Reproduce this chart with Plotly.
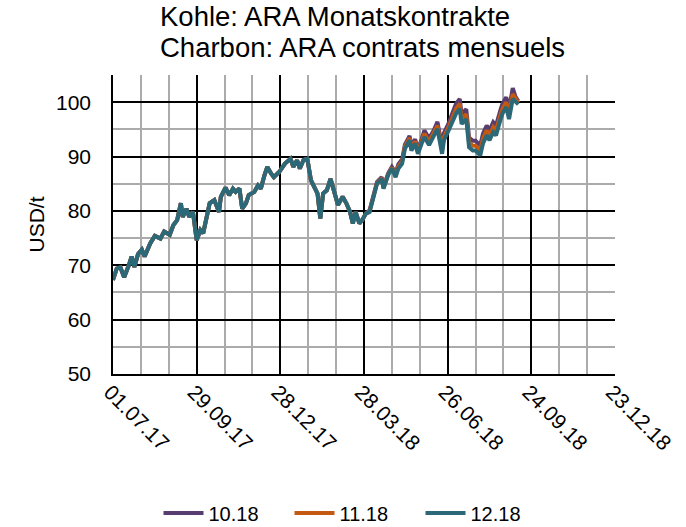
import plotly.graph_objects as go

dates = [
    "2017-07-01", "2017-07-05", "2017-07-09", "2017-07-13", "2017-07-18", "2017-07-21", "2017-07-24", "2017-07-28",
    "2017-08-01", "2017-08-04", "2017-08-10", "2017-08-15", "2017-08-21", "2017-08-25", "2017-08-31",
    "2017-09-04", "2017-09-08", "2017-09-12", "2017-09-14", "2017-09-18", "2017-09-21", "2017-09-25", "2017-09-29",
    "2017-10-03", "2017-10-06", "2017-10-10", "2017-10-13", "2017-10-18", "2017-10-23", "2017-10-25", "2017-10-30",
    "2017-11-03", "2017-11-07", "2017-11-10", "2017-11-14", "2017-11-17", "2017-11-21", "2017-11-24", "2017-11-30",
    "2017-12-04", "2017-12-07", "2017-12-11", "2017-12-14", "2017-12-18", "2017-12-21", "2017-12-27",
    "2018-01-02", "2018-01-08", "2018-01-11", "2018-01-15", "2018-01-18", "2018-01-22", "2018-01-26", "2018-01-30",
    "2018-02-02", "2018-02-06", "2018-02-09", "2018-02-12", "2018-02-16", "2018-02-20", "2018-02-23", "2018-02-28",
    "2018-03-05", "2018-03-09", "2018-03-13", "2018-03-16", "2018-03-19", "2018-03-23", "2018-03-26", "2018-03-30",
    "2018-04-03", "2018-04-06", "2018-04-11", "2018-04-16", "2018-04-18", "2018-04-23", "2018-04-27",
    "2018-05-01", "2018-05-04", "2018-05-08", "2018-05-11", "2018-05-16", "2018-05-18", "2018-05-22", "2018-05-25", "2018-05-29",
    "2018-06-01", "2018-06-06", "2018-06-11", "2018-06-15", "2018-06-20", "2018-06-22", "2018-06-27",
    "2018-07-02", "2018-07-05", "2018-07-09", "2018-07-11", "2018-07-16", "2018-07-19", "2018-07-23", "2018-07-26", "2018-07-31",
    "2018-08-03", "2018-08-07", "2018-08-10", "2018-08-14", "2018-08-17", "2018-08-22", "2018-08-24", "2018-08-28", "2018-08-31",
    "2018-09-04", "2018-09-07", "2018-09-10",
]

ara_10_18 = [
    67.3, 69.4, 69.6, 67.8, 70.0, 71.6, 69.7, 72.1,
    72.9, 71.6, 74.0, 75.4, 74.9, 76.2, 75.6,
    77.4, 78.3, 81.4, 78.9, 80.4, 78.9, 79.8, 74.6,
    76.5, 75.9, 78.9, 81.4, 82.0, 79.8, 82.6, 84.3,
    82.9, 84.1, 83.5, 84.1, 80.4, 81.4, 82.9, 83.5,
    84.7, 84.1, 86.6, 88.1, 86.9, 86.2, 87.2,
    88.7, 89.6, 88.1, 89.3, 87.8, 89.4, 89.6, 85.6,
    84.4, 83.2, 78.6, 83.2, 83.8, 85.9, 84.1, 81.1,
    82.6, 81.4, 79.8, 77.7, 79.8, 77.7, 78.3, 79.5,
    80.1, 82.3, 85.3, 86.2, 84.4, 86.9, 88.1,
    87.0, 88.6, 89.5, 92.2, 93.8, 91.9, 93.2, 91.3, 93.2,
    94.8, 93.3, 94.8, 96.4, 91.8, 94.3, 96.1,
    98.4, 99.7, 100.6, 97.8, 98.7, 93.5, 92.9, 92.9, 92.0,
    94.2, 95.7, 94.8, 96.3, 95.7, 98.7, 99.7, 100.9, 98.7,
    102.6, 101.0, 100.2,
]

ara_11_18 = [
    67.3, 69.4, 69.6, 67.8, 70.0, 71.6, 69.7, 72.1,
    72.9, 71.6, 74.0, 75.4, 74.9, 76.2, 75.6,
    77.4, 78.3, 81.4, 78.9, 80.4, 78.9, 79.8, 74.6,
    76.5, 75.9, 78.9, 81.4, 82.0, 79.8, 82.6, 84.3,
    82.9, 84.1, 83.5, 84.1, 80.4, 81.4, 82.9, 83.5,
    84.7, 84.1, 86.6, 88.1, 86.9, 86.2, 87.2,
    88.7, 89.6, 88.1, 89.3, 87.8, 89.4, 89.6, 85.6,
    84.4, 83.2, 78.6, 83.2, 83.8, 85.9, 84.1, 81.1,
    82.6, 81.4, 79.8, 77.7, 79.8, 77.7, 78.3, 79.5,
    79.95, 82.15, 85.15, 86.05, 84.25, 86.75, 87.95,
    86.6, 88.2, 89.1, 91.8, 93.4, 91.5, 92.8, 90.9, 92.8,
    94.2, 92.7, 94.2, 95.7, 91.1, 93.6, 95.4,
    97.5, 98.8, 99.7, 96.9, 97.8, 92.6, 92.0, 92.0, 91.1,
    93.3, 94.8, 93.9, 95.4, 94.8, 97.8, 98.8, 100.0, 97.8,
    101.5, 100.6, 99.9,
]

ara_12_18 = [
    67.3, 69.4, 69.6, 67.8, 70.0, 71.6, 69.7, 72.1,
    72.9, 71.6, 74.0, 75.4, 74.9, 76.2, 75.6,
    77.4, 78.3, 81.4, 78.9, 80.4, 78.9, 79.8, 74.6,
    76.5, 75.9, 78.9, 81.4, 82.0, 79.8, 82.6, 84.3,
    82.9, 84.1, 83.5, 84.1, 80.4, 81.4, 82.9, 83.5,
    84.7, 84.1, 86.6, 88.1, 86.9, 86.2, 87.2,
    88.7, 89.6, 88.1, 89.3, 87.8, 89.4, 89.6, 85.6,
    84.4, 83.2, 78.6, 83.2, 83.8, 85.9, 84.1, 81.1,
    82.6, 81.4, 79.8, 77.7, 79.8, 77.7, 78.3, 79.5,
    79.8, 82.0, 85.0, 85.9, 84.1, 86.6, 87.8,
    86.2, 87.8, 88.7, 91.4, 93.0, 91.1, 92.4, 90.5, 92.4,
    93.6, 92.1, 93.6, 95.1, 90.5, 93.0, 94.8,
    96.6, 97.9, 98.8, 96.0, 96.9, 91.7, 91.1, 91.1, 90.2,
    92.4, 93.9, 93.0, 94.5, 93.9, 96.9, 97.9, 99.1, 96.9,
    100.6, 100.0, 99.6,
]

series_names = ["10.18", "11.18", "12.18"]
series_colors = ["#573d70", "#c45a11", "#2b6878"]
title_lines = ["Kohle: ARA Monatskontrakte", "Charbon: ARA contrats mensuels"]
y_title = "USD/t"

FONT = "Liberation Sans, Arial, sans-serif"
DAY_MS = 86400000
PLOT_L, PLOT_T, PLOT_W, PLOT_H = 113, 75, 502, 299  # target pixels

fig = go.Figure()
for name, vals, col in zip(series_names, [ara_10_18, ara_11_18, ara_12_18], series_colors):
    fig.add_trace(go.Scatter(
        x=dates, y=vals, mode="lines", name=name,
        line=dict(color=col, width=4),
    ))

W, H = 686, 527
fig.update_layout(
    width=W, height=H,
    margin=dict(l=PLOT_L, r=W - PLOT_L - PLOT_W, t=PLOT_T, b=H - PLOT_T - PLOT_H,
                autoexpand=False),
    paper_bgcolor="white", plot_bgcolor="white",
    font=dict(family=FONT, color="#000000", size=21),
    showlegend=True,
    legend=dict(
        orientation="h", xref="container", yref="container",
        x=355 / W, xanchor="center",
        y=1 - 513 / H, yanchor="middle",
        font=dict(size=20, family=FONT), itemwidth=40,
        entrywidth=76, tracegroupgap=0,
    ),
)

fig.update_xaxes(
    type="date",
    range=["2017-07-01", "2018-12-23"],
    tick0="2017-07-01", dtick=90 * DAY_MS,
    tickformat="%d.%m.%y", tickangle=45,
    tickfont=dict(size=21, family=FONT),
    ticks="", ticklabelstandoff=-4, ticklabelshift=-3,
    showgrid=True, gridcolor="#000000", gridwidth=1.5,
    showline=True, linecolor="#000000", linewidth=1.5,
    zeroline=False,
    minor=dict(dtick=30 * DAY_MS, tick0="2017-07-01", showgrid=True,
               gridcolor="#ababab", gridwidth=1.5),
)

fig.update_yaxes(
    range=[50, 105], tick0=50, dtick=10,
    tickfont=dict(size=21, family=FONT),
    ticks="", ticklabelstandoff=16,
    showgrid=True, gridcolor="#000000", gridwidth=1.5,
    showline=True, linecolor="#000000", linewidth=1.5,
    zeroline=False,
    minor=dict(dtick=5, tick0=50, showgrid=True,
               gridcolor="#ababab", gridwidth=1.5),
)

def px_x(px):
    return (px - PLOT_L) / PLOT_W

def px_y(py):
    return 1 - (py - PLOT_T) / PLOT_H

fig.add_annotation(
    text=title_lines[0], xref="paper", yref="paper",
    x=px_x(159), y=px_y(17),
    xanchor="left", yanchor="middle", showarrow=False, borderpad=0,
    font=dict(size=27.5, family=FONT, color="#000000"),
)
fig.add_annotation(
    text=title_lines[1], xref="paper", yref="paper",
    x=px_x(159), y=px_y(47),
    xanchor="left", yanchor="middle", showarrow=False, borderpad=0,
    font=dict(size=27.5, family=FONT, color="#000000"),
)
fig.add_annotation(
    text=y_title, xref="paper", yref="paper",
    x=px_x(36), y=0.5, textangle=-90,
    xanchor="center", yanchor="middle", showarrow=False,
    font=dict(size=21, family=FONT, color="#000000"),
)

# remove the browser's default 8px page margin so the figure sits at the window origin
fig.write_html(
    "out.html",
    config={"displayModeBar": False},
    post_script="document.body.style.margin='0';",
)
